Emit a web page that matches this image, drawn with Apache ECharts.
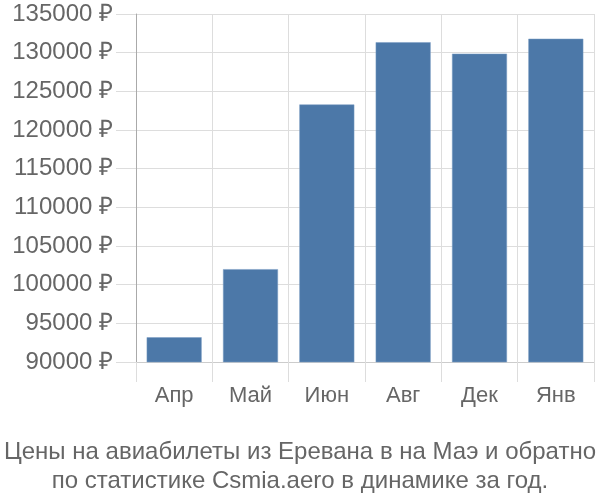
<!DOCTYPE html>
<html><head><meta charset="utf-8">
<script src="https://cdn.jsdelivr.net/npm/echarts@6/dist/echarts.min.js"></script>
<style>html,body{margin:0;padding:0;background:#fff}#c{width:600px;height:500px}</style>
</head><body><div id="c"></div>
<script>
const categories = ['Апр', 'Май', 'Июн', 'Авг', 'Дек', 'Янв'];
const prices = [93200, 102000, 123300, 131350, 129870, 131800];
const titleLines = ['Цены на авиабилеты из Еревана в на Маэ и обратно', 'по статистике Csmia.aero в динамике за год.'];
const yMin = 90000, yMax = 135000, yStep = 5000;

const chart = echarts.init(document.getElementById('c'), null, {renderer: 'canvas'});
const font = 'Liberation Sans';
chart.setOption({
  animation: false,
  textStyle: {fontFamily: font},
  title: {
    text: titleLines.join('\n'),
    left: 'center', top: 433,
    textStyle: {fontFamily: font, fontSize: 24, fontWeight: 'normal', color: '#666', lineHeight: 29}
  },
  grid: {left: 136, right: 6, top: 14, bottom: 138, containLabel: false},
  xAxis: {
    type: 'category', data: categories,
    axisLine: {show: true, lineStyle: {color: '#ccc'}},
    axisTick: {show: true, length: 20, interval: 0, lineStyle: {color: '#ddd'}},
    splitLine: {show: true, interval: 0, lineStyle: {color: '#ddd'}},
    axisLabel: {color: '#666', fontSize: 22, margin: 23, fontFamily: font}
  },
  yAxis: {
    type: 'value', min: yMin, max: yMax, interval: yStep,
    axisLine: {show: true, lineStyle: {color: '#aaa'}},
    axisTick: {show: true, length: 20, lineStyle: {color: '#ddd'}},
    splitLine: {show: true, lineStyle: {color: '#ddd'}},
    axisLabel: {color: '#666', fontSize: 24, margin: 23, fontFamily: font, formatter: v => v + ' ₽'}
  },
  series: [{
    type: 'bar', data: prices, barCategoryGap: '28%',
    itemStyle: {color: '#4c78a8', borderColor: '#7a9cc4', borderWidth: 0.5}
  }]
});
</script></body></html>
